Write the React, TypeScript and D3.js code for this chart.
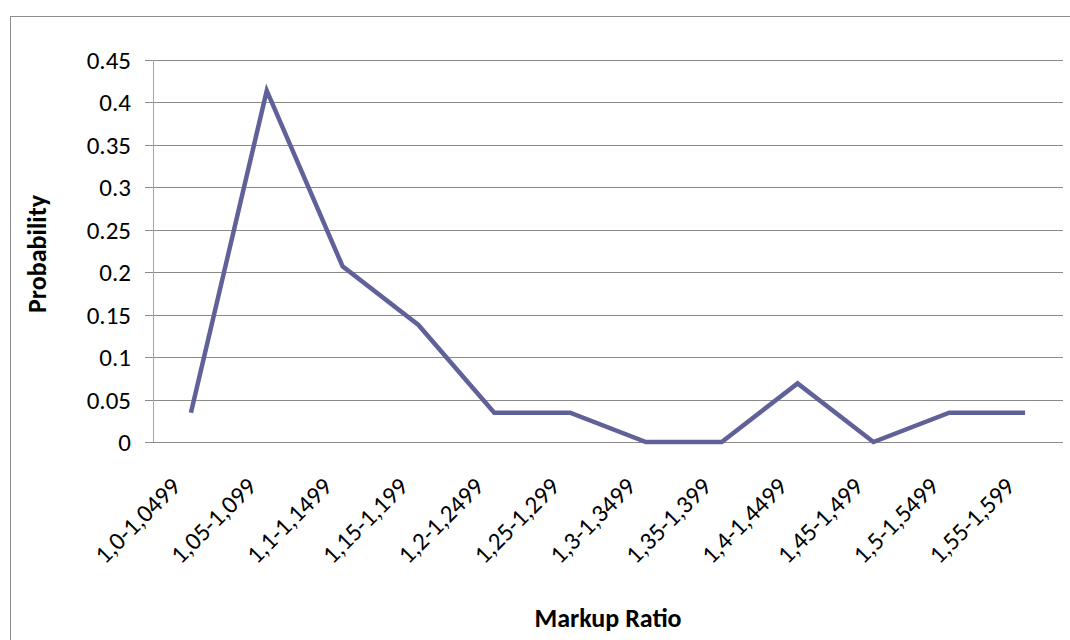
import React from "react";
import * as d3 from "d3";

const categories = [
  "1,0-1,0499", "1,05-1,099", "1,1-1,1499", "1,15-1,199", "1,2-1,2499", "1,25-1,299",
  "1,3-1,3499", "1,35-1,399", "1,4-1,4499", "1,45-1,499", "1,5-1,5499", "1,55-1,599",
];
const probability = [0.0345, 0.4138, 0.2069, 0.1379, 0.0345, 0.0345, 0, 0, 0.069, 0, 0.0345, 0.0345];
const yTicks = [0, 0.05, 0.1, 0.15, 0.2, 0.25, 0.3, 0.35, 0.4, 0.45];

const W = 1070, H = 640;
const left = 153, right = 1063, top = 60, bottom = 442;
const FONT = "Carlito, Calibri, Lato, 'Open Sans', sans-serif";

export default function App() {
  const x = d3.scaleBand<string>().domain(categories).range([left, right]).padding(0);
  const y = d3.scaleLinear().domain([0, 0.45]).range([bottom, top]);
  const line = d3.line<number>()
    .x((_, i) => (x(categories[i]) as number) + x.bandwidth() / 2)
    .y((d) => y(d));
  return (
    <svg width={W} height={H} style={{ position: "absolute", left: 0, top: 0 }}>
      <rect x={0} y={0} width={W} height={H} fill="#fff" />
      <rect x={10.5} y={16.5} width={W} height={H} fill="none" stroke="#8c8c8c" strokeWidth={1} />
      {yTicks.map((t) => (
        <g key={t}>
          <line x1={145} x2={right} y1={Math.round(y(t)) + 0.5} y2={Math.round(y(t)) + 0.5} stroke="#8a8a8a" strokeWidth={1} />
          <text x={131} y={y(t)} dy="0.36em" textAnchor="end" fontSize={25} fontFamily={FONT} fill="#000">
            {String(t)}
          </text>
        </g>
      ))}
      <line x1={left + 0.5} x2={left + 0.5} y1={top} y2={bottom} stroke="#a6a6a6" strokeWidth={1} />
      <path d={line(probability) || ""} fill="none" stroke="#616199" strokeWidth={4.5} strokeLinejoin="miter" />
      {categories.map((c) => {
        const cx = (x(c) as number) + x.bandwidth() / 2;
        return (
          <text key={c} transform={`translate(${cx - 9},${488}) rotate(-45)`} textAnchor="end" fontSize={25}
            fontFamily={FONT} fill="#000">
            {c}
          </text>
        );
      })}
      <text x={608} y={627} textAnchor="middle" fontSize={26} fontWeight="bold" fontFamily={FONT}>Markup Ratio</text>
      <text transform={`translate(46,254) rotate(-90)`} textAnchor="middle" fontSize={26} fontWeight="bold" fontFamily={FONT}>Probability</text>
    </svg>
  );
}
